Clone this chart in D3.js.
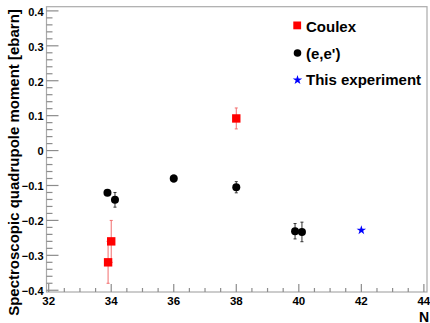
<!DOCTYPE html>
<html>
<head>
<meta charset="utf-8">
<script src="https://cdn.jsdelivr.net/npm/d3@7"></script>
<style>
  html, body { margin: 0; padding: 0; background: #fff; }
  svg { display: block; font-family: "Liberation Sans", Arial, sans-serif; font-weight: bold; }
</style>
</head>
<body>
<svg id="chart" width="430" height="323"></svg>
<script>
// Coulex measurements: neutron number, Q (ebarn), uncertainty
const coulexN   = [33.9, 34.0, 38.0];
const coulexQ   = [-0.32, -0.26, 0.092];
const coulexErr = [0.06, 0.06, 0.03];

// (e,e') measurements
const eeN   = [33.88, 34.12, 36.0, 38.0, 39.88, 40.1];
const eeQ   = [-0.121, -0.141, -0.080, -0.105, -0.231, -0.233];
const eeErr = [0.006, 0.021, 0.010, 0.016, 0.022, 0.028];

// this experiment
const expN = [42.0];
const expQ = [-0.228];

const xTicks = [32, 34, 36, 38, 40, 42, 44];
const yTicks = [-0.4, -0.3, -0.2, -0.1, 0, 0.1, 0.2, 0.3, 0.4];
const legendLabels = ["Coulex", "(e,e')", "This experiment"];

const svg = d3.select("#chart");
const plotL = 46.5, plotR = 427, plotT = 6.7, plotB = 292;

const x = d3.scaleLinear().domain([31.93, 44.1]).range([plotL, plotR]);
const y = d3.scaleLinear().domain([-0.405, 0.412]).range([plotB, plotT]);

const gray = "#8c8c8c";

// frame
svg.append("rect")
  .attr("x", plotL).attr("y", plotT)
  .attr("width", plotR - plotL).attr("height", plotB - plotT)
  .attr("fill", "none").attr("stroke", "#aaa").attr("stroke-width", 1.2);

// x axis ticks
const xMinor = d3.range(0, 25).map(i => 32 + i * 0.5);
svg.append("g").selectAll("line").data(xMinor).join("line")
  .attr("x1", d => x(d)).attr("x2", d => x(d))
  .attr("y1", plotB).attr("y2", (d, i) => plotB - (i % 4 === 0 ? 8 : 4))
  .attr("stroke", gray).attr("stroke-width", 1.2);

svg.append("g").selectAll("text").data(xTicks).join("text")
  .attr("x", d => x(d)).attr("y", 305)
  .attr("text-anchor", "middle")
  .attr("font-size", 11.5)
  .text(d => d);

// y axis ticks
const yMinor = d3.range(-40, 41, 2).map(v => v / 100);
svg.append("g").selectAll("line").data(yMinor).join("line")
  .attr("x1", plotL).attr("x2", (d, i) => plotL + (i % 5 === 0 ? 12 : 6))
  .attr("y1", d => y(d)).attr("y2", d => y(d))
  .attr("stroke", gray).attr("stroke-width", 1.2);

svg.append("g").selectAll("text").data(yTicks).join("text")
  .attr("x", 43.5).attr("y", d => y(d) + 4.8)
  .attr("text-anchor", "end")
  .attr("font-size", 11)
  .text(d => d === 0 ? "0" : d3.format(".1f")(d));

// axis titles
svg.append("text")
  .attr("transform", "translate(18.5,162.5) rotate(-90)")
  .attr("text-anchor", "middle")
  .attr("font-size", 15)
  .text("Spectroscopic quadrupole moment [ebarn]");

svg.append("text")
  .attr("x", 429).attr("y", 321.5)
  .attr("text-anchor", "end")
  .attr("font-size", 14)
  .text("N");

// vertical error bars with short end caps
function errorBars(g, ns, qs, es, color) {
  const data = ns.map((n, i) => ({ n, q: qs[i], e: es[i] }));
  g.selectAll("line.eb").data(data).join("line").attr("class", "eb")
    .attr("x1", d => x(d.n)).attr("x2", d => x(d.n))
    .attr("y1", d => y(d.q - d.e)).attr("y2", d => y(d.q + d.e))
    .attr("stroke", color).attr("stroke-width", 1);
  ["lo", "hi"].forEach(k => {
    g.selectAll("line.cap" + k).data(data).join("line").attr("class", "cap" + k)
      .attr("x1", d => x(d.n) - 1.5).attr("x2", d => x(d.n) + 1.5)
      .attr("y1", d => y(k === "lo" ? d.q - d.e : d.q + d.e))
      .attr("y2", d => y(k === "lo" ? d.q - d.e : d.q + d.e))
      .attr("stroke", color).attr("stroke-width", 1);
  });
}

const gCoulex = svg.append("g");
errorBars(gCoulex, coulexN, coulexQ, coulexErr, "#f26d6d");
gCoulex.selectAll("rect").data(coulexN).join("rect")
  .attr("x", d => x(d) - 4.2).attr("y", (d, i) => y(coulexQ[i]) - 4.2)
  .attr("width", 8.4).attr("height", 8.4)
  .attr("fill", "#ff0000");

const gEE = svg.append("g");
errorBars(gEE, eeN, eeQ, eeErr, "#333");
gEE.selectAll("circle").data(eeN).join("circle")
  .attr("cx", d => x(d)).attr("cy", (d, i) => y(eeQ[i]))
  .attr("r", 4).attr("fill", "#000");

const star = d3.symbol().type(d3.symbolStar).size(28);
svg.append("g").selectAll("path").data(expN).join("path")
  .attr("transform", (d, i) => `translate(${x(d)},${y(expQ[i])})`)
  .attr("d", star).attr("fill", "#0000ff");

// legend
const legend = svg.append("g");
const ly = [25.5, 53, 80];
legend.append("rect").attr("x", 293.3).attr("y", ly[0] - 4).attr("width", 7.8).attr("height", 7.8).attr("fill", "#ff0000");
legend.append("circle").attr("cx", 297.5).attr("cy", ly[1]).attr("r", 3.8).attr("fill", "#000");
legend.append("path").attr("transform", `translate(297.5,${ly[2]})`).attr("d", star).attr("fill", "#0000ff");
legend.selectAll("text").data(legendLabels).join("text")
  .attr("x", 306).attr("y", (d, i) => [31.5, 58.5, 84.5][i])
  .attr("font-size", 15)
  .text(d => d);
</script>
</body>
</html>
